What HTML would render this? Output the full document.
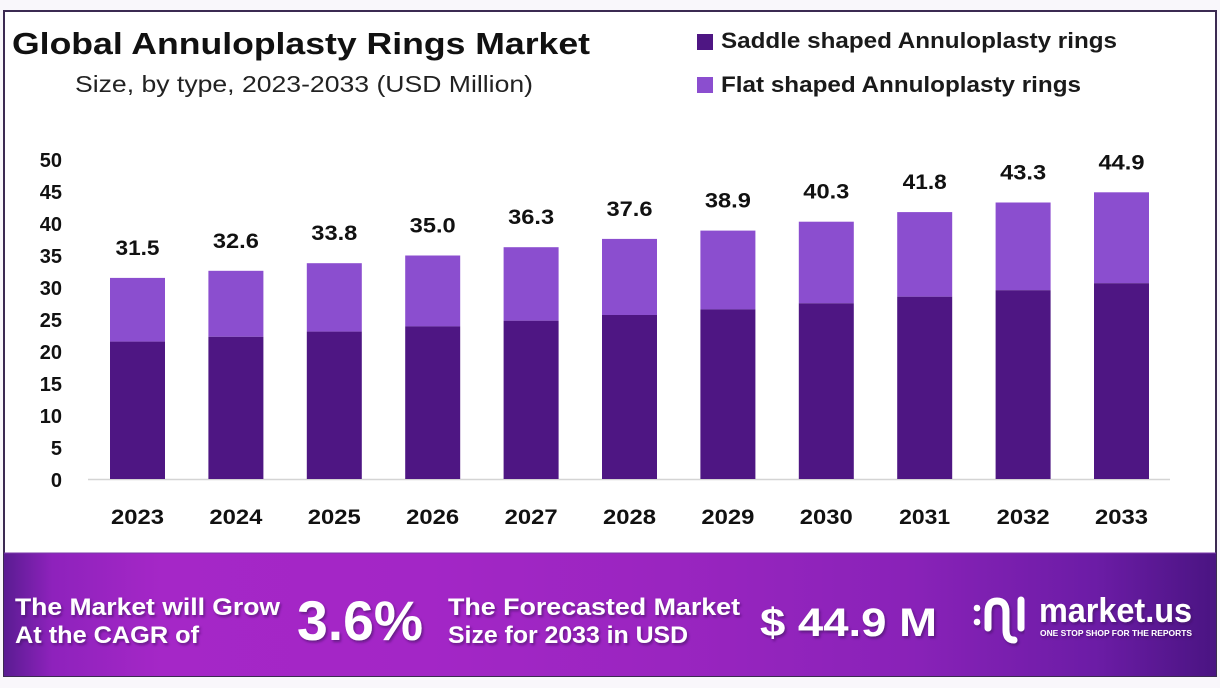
<!DOCTYPE html>
<html><head><meta charset="utf-8"><style>
html,body{margin:0;padding:0;background:#f9f7fb;}
svg{display:block;}
text{font-family:"Liberation Sans",Arial,sans-serif;}
</style></head><body>
<svg width="1220" height="688" viewBox="0 0 1220 688" xmlns="http://www.w3.org/2000/svg">
<defs>
<linearGradient id="bg" x1="0" y1="0" x2="1" y2="0">
<stop offset="0" stop-color="#5a1c92"/>
<stop offset="0.04" stop-color="#8e22bc"/>
<stop offset="0.13" stop-color="#a527c7"/>
<stop offset="0.35" stop-color="#a326c6"/>
<stop offset="0.55" stop-color="#9a25c0"/>
<stop offset="0.75" stop-color="#8922b8"/>
<stop offset="0.9" stop-color="#6c1ca6"/>
<stop offset="1" stop-color="#4a1482"/>
</linearGradient>
<filter id="sh" x="-10%" y="-20%" width="120%" height="150%">
<feDropShadow dx="1.5" dy="2" stdDeviation="1.2" flood-color="#3a0a5a" flood-opacity="0.6"/>
</filter>
</defs>
<rect x="0" y="0" width="1220" height="688" fill="#f9f7fb"/>
<rect x="4" y="11" width="1212" height="665" fill="#ffffff" stroke="#3b2a52" stroke-width="2"/>

<!-- title -->
<text x="12" y="54" font-size="31" font-weight="bold" fill="#111" textLength="578" lengthAdjust="spacingAndGlyphs">Global Annuloplasty Rings Market</text>
<text x="75" y="92" font-size="23" fill="#222" textLength="458" lengthAdjust="spacingAndGlyphs">Size, by type, 2023-2033 (USD Million)</text>

<!-- legend -->
<rect x="697" y="34" width="16" height="16" fill="#4e1683"/>
<text x="721" y="48" font-size="22" font-weight="bold" fill="#1a1a1a" textLength="396" lengthAdjust="spacingAndGlyphs">Saddle shaped Annuloplasty rings</text>
<rect x="697" y="77" width="16" height="16" fill="#8b4ecf"/>
<text x="721" y="92" font-size="22" font-weight="bold" fill="#1a1a1a" textLength="360" lengthAdjust="spacingAndGlyphs">Flat shaped Annuloplasty rings</text>

<!-- y axis labels -->
<g font-size="20" font-weight="bold" fill="#111" text-anchor="end">
<text x="62" y="487">0</text>
<text x="62" y="455">5</text>
<text x="62" y="423">10</text>
<text x="62" y="391">15</text>
<text x="62" y="359">20</text>
<text x="62" y="327">25</text>
<text x="62" y="295">30</text>
<text x="62" y="263">35</text>
<text x="62" y="231">40</text>
<text x="62" y="199">45</text>
<text x="62" y="167">50</text>
</g>

<!-- axis line -->
<line x1="88" y1="479.5" x2="1170" y2="479.5" stroke="#d4d4d4" stroke-width="1.5"/>

<!-- bars -->
<g>
<rect x="110" y="277.9" width="55" height="63.7" fill="#8b4ecf"/><rect x="110" y="341.6" width="55" height="137.4" fill="#4e1683"/>
<rect x="208.4" y="270.8" width="55" height="66" fill="#8b4ecf"/><rect x="208.4" y="336.8" width="55" height="142.2" fill="#4e1683"/>
<rect x="306.8" y="263.2" width="55" height="68.4" fill="#8b4ecf"/><rect x="306.8" y="331.6" width="55" height="147.4" fill="#4e1683"/>
<rect x="405.2" y="255.5" width="55" height="70.9" fill="#8b4ecf"/><rect x="405.2" y="326.4" width="55" height="152.6" fill="#4e1683"/>
<rect x="503.6" y="247.2" width="55" height="73.5" fill="#8b4ecf"/><rect x="503.6" y="320.7" width="55" height="158.3" fill="#4e1683"/>
<rect x="602" y="238.9" width="55" height="76.1" fill="#8b4ecf"/><rect x="602" y="315" width="55" height="164" fill="#4e1683"/>
<rect x="700.4" y="230.6" width="55" height="78.8" fill="#8b4ecf"/><rect x="700.4" y="309.4" width="55" height="169.6" fill="#4e1683"/>
<rect x="798.8" y="221.7" width="55" height="81.6" fill="#8b4ecf"/><rect x="798.8" y="303.3" width="55" height="175.7" fill="#4e1683"/>
<rect x="897.2" y="212.1" width="55" height="84.6" fill="#8b4ecf"/><rect x="897.2" y="296.7" width="55" height="182.3" fill="#4e1683"/>
<rect x="995.6" y="202.5" width="55" height="87.7" fill="#8b4ecf"/><rect x="995.6" y="290.2" width="55" height="188.8" fill="#4e1683"/>
<rect x="1094" y="192.3" width="55" height="90.9" fill="#8b4ecf"/><rect x="1094" y="283.2" width="55" height="195.8" fill="#4e1683"/>
</g>

<!-- value labels -->
<g font-size="21" font-weight="bold" fill="#111" text-anchor="middle">
<text x="137.5" y="255" textLength="44" lengthAdjust="spacingAndGlyphs">31.5</text>
<text x="235.9" y="248" textLength="46" lengthAdjust="spacingAndGlyphs">32.6</text>
<text x="334.3" y="240" textLength="46" lengthAdjust="spacingAndGlyphs">33.8</text>
<text x="432.7" y="232.5" textLength="46" lengthAdjust="spacingAndGlyphs">35.0</text>
<text x="531.1" y="224" textLength="46" lengthAdjust="spacingAndGlyphs">36.3</text>
<text x="629.5" y="216" textLength="46" lengthAdjust="spacingAndGlyphs">37.6</text>
<text x="727.9" y="207.5" textLength="46" lengthAdjust="spacingAndGlyphs">38.9</text>
<text x="826.3" y="198.5" textLength="46" lengthAdjust="spacingAndGlyphs">40.3</text>
<text x="924.7" y="189" textLength="44" lengthAdjust="spacingAndGlyphs">41.8</text>
<text x="1023.1" y="179.5" textLength="46" lengthAdjust="spacingAndGlyphs">43.3</text>
<text x="1121.5" y="169.5" textLength="46" lengthAdjust="spacingAndGlyphs">44.9</text>
</g>

<!-- x labels -->
<g font-size="21" font-weight="bold" fill="#111" text-anchor="middle">
<text x="137.5" y="524" textLength="53" lengthAdjust="spacingAndGlyphs">2023</text>
<text x="235.9" y="524" textLength="53" lengthAdjust="spacingAndGlyphs">2024</text>
<text x="334.3" y="524" textLength="53" lengthAdjust="spacingAndGlyphs">2025</text>
<text x="432.7" y="524" textLength="53" lengthAdjust="spacingAndGlyphs">2026</text>
<text x="531.1" y="524" textLength="53" lengthAdjust="spacingAndGlyphs">2027</text>
<text x="629.5" y="524" textLength="53" lengthAdjust="spacingAndGlyphs">2028</text>
<text x="727.9" y="524" textLength="53" lengthAdjust="spacingAndGlyphs">2029</text>
<text x="826.3" y="524" textLength="53" lengthAdjust="spacingAndGlyphs">2030</text>
<text x="924.7" y="524" textLength="51" lengthAdjust="spacingAndGlyphs">2031</text>
<text x="1023.1" y="524" textLength="53" lengthAdjust="spacingAndGlyphs">2032</text>
<text x="1121.5" y="524" textLength="53" lengthAdjust="spacingAndGlyphs">2033</text>
</g>

<!-- banner -->
<rect x="4" y="553" width="1212" height="123" fill="url(#bg)"/>
<line x1="4" y1="553" x2="1216" y2="553" stroke="#7a3aa8" stroke-width="1"/>
<g fill="#ffffff" font-weight="bold" filter="url(#sh)">
<text x="15" y="615" font-size="24" textLength="265" lengthAdjust="spacingAndGlyphs">The Market will Grow</text>
<text x="15" y="643" font-size="24" textLength="184" lengthAdjust="spacingAndGlyphs">At the CAGR of</text>
<text x="297" y="640" font-size="56" textLength="126" lengthAdjust="spacingAndGlyphs">3.6%</text>
<text x="448" y="615" font-size="24" textLength="292" lengthAdjust="spacingAndGlyphs">The Forecasted Market</text>
<text x="448" y="643" font-size="24" textLength="240" lengthAdjust="spacingAndGlyphs">Size for 2033 in USD</text>
<text x="760" y="636" font-size="40" textLength="177" lengthAdjust="spacingAndGlyphs">$ 44.9 M</text>
<text x="1039" y="622" font-size="34" textLength="153" lengthAdjust="spacingAndGlyphs">market.us</text>
<text x="1040" y="636" font-size="8" textLength="152" lengthAdjust="spacingAndGlyphs">ONE STOP SHOP FOR THE REPORTS</text>
</g>
<!-- logo icon -->
<g fill="none" stroke="#ffffff" stroke-width="7" stroke-linecap="round" filter="url(#sh)">
<path d="M988 628 L988 612 Q988 601 997 601 Q1006 601 1006 612 L1006 630 Q1006 640 1014 640"/>
<path d="M1021 600 L1021 628"/>
</g>
<g fill="#ffffff" filter="url(#sh)">
<circle cx="977" cy="608" r="3.3"/>
<circle cx="977" cy="622" r="3.3"/>
</g>
</svg>
</body></html>
